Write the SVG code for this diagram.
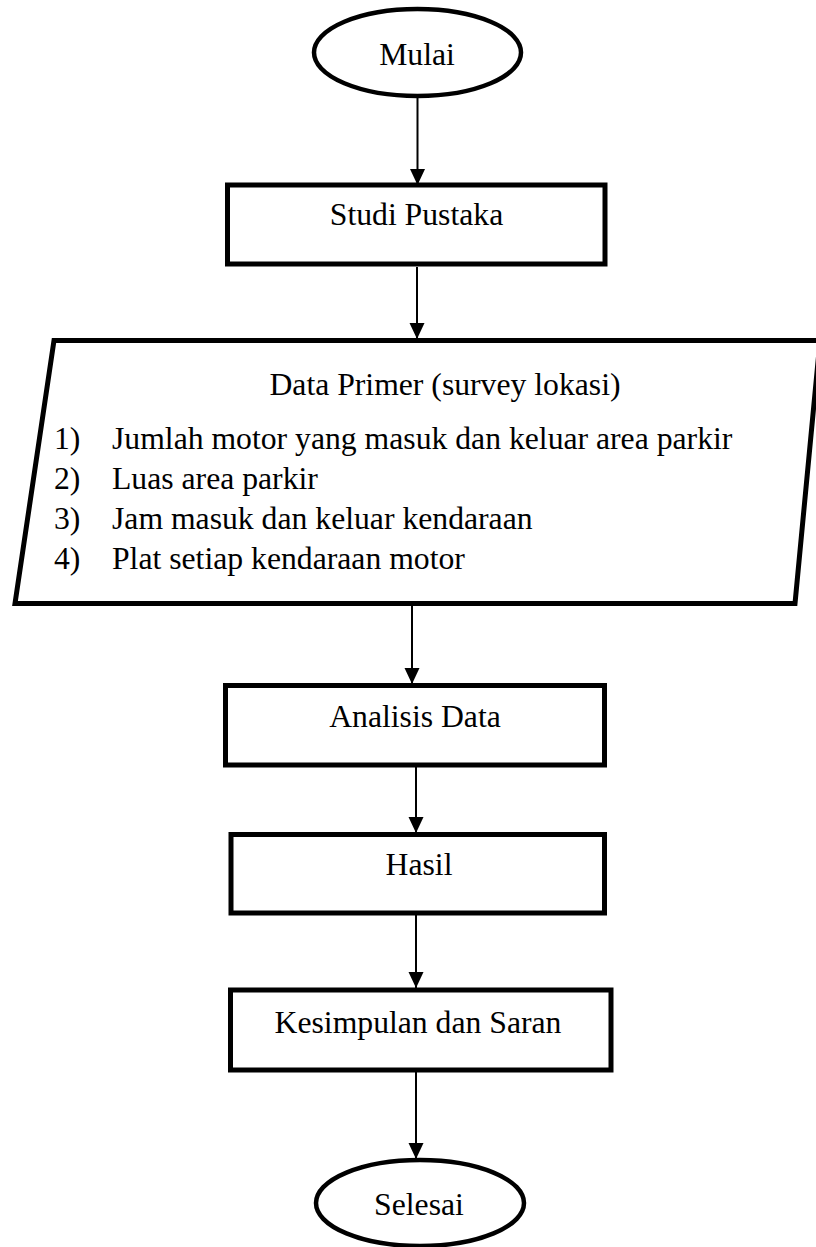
<svg xmlns="http://www.w3.org/2000/svg" width="816" height="1247" viewBox="0 0 816 1247">
<defs>
<style>
.shape{fill:#fff;stroke:#000;stroke-width:5}
.term{fill:#fff;stroke:#000;stroke-width:4.5}
.conn{stroke:#000;stroke-width:2;fill:none}
.t{font-family:"Liberation Serif","Times New Roman",serif;font-size:31.7px;fill:#000}
.c{text-anchor:middle}
</style>
<marker id="arr" markerUnits="userSpaceOnUse" markerWidth="16" markerHeight="17" refX="16" refY="7.5" orient="auto">
<path d="M0,0 L16,7.5 L0,15 Z" fill="#000"/>
</marker>
</defs>
<rect width="816" height="1247" fill="#fff"/>
<g id="connectors">
<line class="conn" x1="417.5" y1="98" x2="417.5" y2="185" marker-end="url(#arr)"/>
<line class="conn" x1="417" y1="267" x2="417" y2="339" marker-end="url(#arr)"/>
<line class="conn" x1="412" y1="606" x2="412" y2="684" marker-end="url(#arr)"/>
<line class="conn" x1="416" y1="767" x2="416" y2="833" marker-end="url(#arr)"/>
<line class="conn" x1="416" y1="915" x2="416" y2="988" marker-end="url(#arr)"/>
<line class="conn" x1="416" y1="1072" x2="416" y2="1159" marker-end="url(#arr)"/>
</g>
<g id="mulai">
<ellipse class="term" cx="417.5" cy="52.5" rx="103.5" ry="43.5"/>
<text class="t c" x="417" y="65">Mulai</text>
</g>
<g id="studi-pustaka">
<rect class="shape" x="227.5" y="185" width="377.5" height="79"/>
<text class="t c" x="416.5" y="225">Studi Pustaka</text>
</g>
<g id="data-primer">
<polygon class="shape" points="54,340.5 820,340.5 795,603.5 15,603.5"/>
<text class="t c" x="445" y="395">Data Primer (survey lokasi)</text>
<text class="t" x="54" y="449">1)</text>
<text class="t" x="112" y="449">Jumlah motor yang masuk dan keluar area parkir</text>
<text class="t" x="54" y="489">2)</text>
<text class="t" x="112" y="489">Luas area parkir</text>
<text class="t" x="54" y="529">3)</text>
<text class="t" x="112" y="529">Jam masuk dan keluar kendaraan</text>
<text class="t" x="54" y="569">4)</text>
<text class="t" x="112" y="569">Plat setiap kendaraan motor</text>
</g>
<g id="analisis-data">
<rect class="shape" x="225.5" y="685.5" width="379" height="79.5"/>
<text class="t c" x="415" y="727">Analisis Data</text>
</g>
<g id="hasil">
<rect class="shape" x="231" y="834.5" width="373.5" height="78.5"/>
<text class="t c" x="419" y="875">Hasil</text>
</g>
<g id="kesimpulan">
<rect class="shape" x="230.5" y="990" width="380.5" height="80"/>
<text class="t c" x="418" y="1033">Kesimpulan dan Saran</text>
</g>
<g id="selesai">
<ellipse class="term" cx="420" cy="1203" rx="104" ry="43"/>
<text class="t c" x="419" y="1215">Selesai</text>
</g>
</svg>
